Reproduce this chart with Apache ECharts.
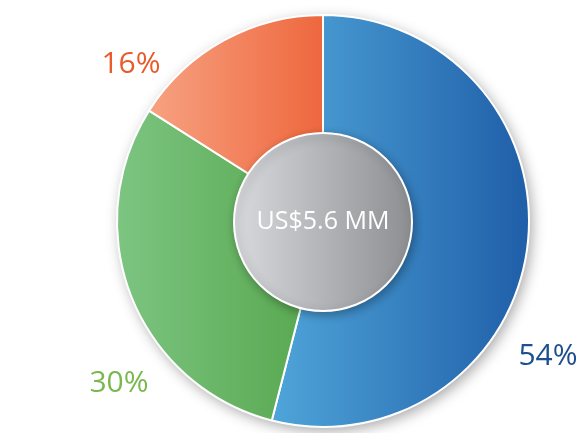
<!DOCTYPE html>
<html>
<head>
<meta charset="utf-8">
<script src="https://cdn.jsdelivr.net/npm/echarts@6/dist/echarts.min.js"></script>
<style>
  html, body { margin: 0; padding: 0; background: #fff; }
  #chart { width: 582px; height: 433px; }
</style>
</head>
<body>
<div id="chart"></div>
<script>
  // data
  var names = ['Blue', 'Green', 'Orange'];
  var values = [54, 30, 16];
  var labels = ['54%', '30%', '16%'];
  var centerText = 'US$5.6 MM';

  var lightColors = ['#4fa5d9', '#7cc582', '#f7a282'];
  var darkColors = ['#1f5ea8', '#56a64c', '#ee673d'];
  var labelColors = ['#1e4f8f', '#78b84f', '#e95a2c'];
  var labelPos = [[548, 356], [119, 383], [131, 64]];

  var chart = echarts.init(document.getElementById('chart'));

  function grad(a, b) {
    return new echarts.graphic.LinearGradient(0, 0, 1, 0, [
      { offset: 0, color: a },
      { offset: 1, color: b }
    ]);
  }

  var pieData = values.map(function (v, i) {
    return {
      name: names[i],
      value: v,
      itemStyle: { color: grad(lightColors[i], darkColors[i]) }
    };
  });

  var center = [323, 221];

  chart.setOption({
    animation: false,
    series: [
      {
        // soft shadow under the pie
        type: 'pie',
        center: center,
        radius: [0, 206],
        silent: true,
        label: { show: false },
        itemStyle: {
          color: '#fff',
          shadowBlur: 14,
          shadowColor: 'rgba(0,0,0,0.35)',
          shadowOffsetX: 3,
          shadowOffsetY: 4
        },
        data: [{ value: 1 }],
        z: 1
      },
      {
        type: 'pie',
        center: center,
        radius: [0, 206],
        startAngle: 90,
        clockwise: true,
        silent: true,
        label: { show: false },
        labelLine: { show: false },
        itemStyle: { borderColor: '#fff', borderWidth: 2 },
        data: pieData,
        z: 2
      },
      {
        type: 'pie',
        center: [323, 222],
        radius: [0, 89],
        silent: true,
        labelLine: { show: false },
        label: {
          show: true,
          position: 'center',
          formatter: centerText,
          color: '#fff',
          fontSize: 25,
          fontFamily: 'Open Sans'
        },
        itemStyle: {
          color: grad('#d8dadd', '#8c8e92'),
          borderColor: '#fff',
          borderWidth: 2,
          shadowBlur: 10,
          shadowColor: 'rgba(0,0,0,0.3)',
          shadowOffsetX: 2,
          shadowOffsetY: 3
        },
        data: [{ value: 1 }],
        z: 3
      }
    ],
    graphic: labels.map(function (t, i) {
      return {
        type: 'text',
        x: labelPos[i][0],
        y: labelPos[i][1],
        style: {
          text: t,
          fill: labelColors[i],
          font: '30px "Open Sans"',
          align: 'center',
          verticalAlign: 'middle'
        },
        z: 10
      };
    })
  });
</script>
</body>
</html>
